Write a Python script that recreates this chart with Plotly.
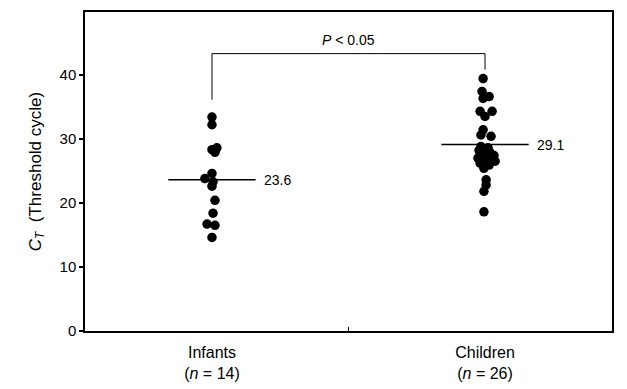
import plotly.graph_objects as go

# ---- data ----
groups = ["Infants", "Children"]
group_labels = ["Infants<br>(<i>n</i> = 14)", "Children<br>(<i>n</i> = 26)"]
infants_ct = [33.4, 32.2, 28.6, 28.3, 27.9, 24.6, 23.8, 23.3, 22.6, 20.4, 18.4, 16.7, 16.5, 14.6]
infants_jitter = [0.0, 0.0, 0.018, 0.0, 0.011, 0.0, -0.026, 0.004, 0.0, 0.011, 0.004, -0.018, 0.011, 0.0]
children_ct = [39.4, 37.4, 36.6, 36.3, 34.3, 34.3, 33.5, 31.4, 30.6, 30.4,
               28.8, 28.6, 28.2, 27.9, 27.6, 27.4, 27.0, 26.7, 26.5, 26.2, 25.9, 25.4,
               23.6, 22.8, 21.8, 18.6]
children_jitter = [-0.007, -0.011, 0.015, -0.007, -0.018, 0.026, 0.0, -0.007, -0.015, 0.022,
                   -0.015, 0.011, -0.022, 0.018, -0.011, 0.033, -0.026, 0.007, 0.037, -0.018, 0.015, -0.004,
                   0.004, 0.004, -0.004, -0.004]
means = [23.6, 29.1]
mean_labels = ["23.6", "29.1"]
p_text = "<i>P</i> < 0.05"
bracket_y = 43.3
bracket_ends = [36.1, 40.8]
y_ticks = [0, 10, 20, 30, 40]

fig = go.Figure()

fig.add_trace(go.Scatter(
    x=[0 + j for j in infants_jitter], y=infants_ct, mode="markers",
    marker=dict(color="black", size=9.5), showlegend=False, hoverinfo="y"))
fig.add_trace(go.Scatter(
    x=[1 + j for j in children_jitter], y=children_ct, mode="markers",
    marker=dict(color="black", size=9.5), showlegend=False, hoverinfo="y"))

half = 0.16
for i, m in enumerate(means):
    fig.add_shape(type="line", x0=i - half, x1=i + half, y0=m, y1=m,
                  line=dict(color="black", width=1.5))
    fig.add_annotation(x=i + half, y=m, text=mean_labels[i], showarrow=False,
                       xanchor="left", xshift=6, font=dict(size=14, color="black"))

# significance bracket
fig.add_shape(type="path",
              path=f"M 0 {bracket_ends[0]} L 0 {bracket_y} L 1 {bracket_y} L 1 {bracket_ends[1]}",
              line=dict(color="black", width=1))
fig.add_annotation(x=0.5, y=bracket_y, text=p_text, showarrow=False,
                   yanchor="bottom", yshift=4, font=dict(size=14, color="black"))

fig.update_layout(
    width=627, height=389,
    margin=dict(l=85, r=15, t=12, b=58),
    plot_bgcolor="white", paper_bgcolor="white",
    font=dict(family="Liberation Sans, Arial, sans-serif", color="black"),
    xaxis=dict(range=[-0.465, 1.465], tickvals=[0, 1], ticktext=group_labels,
               ticks="", showgrid=False, zeroline=False, automargin=False,
               showline=True, linecolor="black", linewidth=1.5, mirror=True,
               tickfont=dict(size=16), ticklabelstandoff=6,
               minor=dict(tickvals=[0.5], ticks="inside", ticklen=4,
                          tickcolor="black", showgrid=False)),
    yaxis=dict(range=[0, 49.8], tickvals=y_ticks, ticks="outside", ticklen=4,
               tickcolor="black", tickwidth=1.5, showgrid=False, zeroline=False,
               showline=True, linecolor="black", linewidth=1.5, mirror=True,
               tickfont=dict(size=15), automargin=False,
               title=dict(text="<i>C</i><sub><i>T</i></sub>  (Threshold cycle)",
                          font=dict(size=17), standoff=14)),
)

fig.write_html("out.html")
